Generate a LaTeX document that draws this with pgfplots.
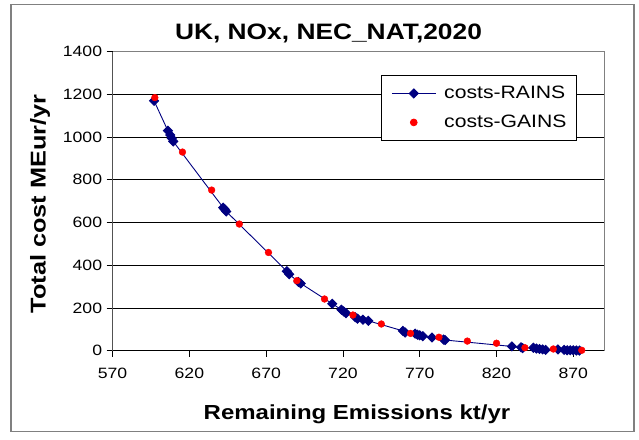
\documentclass[border=0pt]{standalone}
\usepackage{fontspec}
\setmainfont{Liberation Sans}[FakeStretch=1.18]
\usepackage{pgfplots}
\pgfplotsset{compat=1.18}
\definecolor{navyb}{RGB}{0,0,128}
\definecolor{framegray}{RGB}{128,128,128}
\begin{document}
\begin{tikzpicture}[x=1bp,y=1bp]
\path[use as bounding box] (0,0) rectangle (639,-440);
\draw[framegray, line width=1.3bp] (11,-4.5) rectangle (634,-431.5);
\begin{axis}[
  at={(112.6bp,-350.7bp)}, anchor=south west,
  scale only axis, width=491.4bp, height=299bp,
  xmin=570, xmax=890, ymin=0, ymax=1400,
  xtick={570,620,...,870},
  ytick={0,200,...,1200},
  extra y ticks={1400},
  extra y tick style={grid=none},
  ymajorgrids,
  grid style={black, line width=0.9bp},
  axis line style={framegray, line width=0.9bp},
  tick pos=left,
  tick align=outside,
  major tick length=6bp,
  tick style={black, line width=0.9bp},
  /pgf/number format/assume math mode=true,
  /pgf/number format/1000 sep={},
  tick label style={font=\fontsize{15}{17}\selectfont},
  yticklabel style={xshift=-1bp},
  xticklabel style={yshift=-8bp},
  legend style={at={(axis description cs:0.546,0.922)}, anchor=north west,
    draw=black, line width=0.8bp, fill=white,
    font=\fontsize{18}{20}\selectfont,
    row sep=11bp, inner xsep=8bp, inner ysep=9bp},
  legend cell align=left,
  legend image code/.code={\path (-2bp,0bp) (50bp,0bp);\draw[mark repeat=2,mark phase=2] plot coordinates {(0bp,0bp) (22bp,0bp) (44bp,0bp)};},
]
\addplot[navyb, line width=0.9bp, mark=square*, mark size=3.2bp,
  mark options={rotate=45, fill=navyb, draw=navyb, solid}] coordinates {
(597,1170) (606,1030) (607.5,1010) (608.5,995) (609.5,980)
(642,670) (643,662) (644,652)
(683.5,372) (685,358) (691,322) (692.5,315)
(713,220) (719,192) (720.5,184) (722,176) (728,157) (729.5,150) (733,145) (736.5,140)
(759,93) (760.5,85) (767,80) (768.5,75) (770,72) (772,68) (778,62) (785.5,52) (786.5,50)
(830,20) (836,16) (837,12) (844,14) (846,10) (848,8) (850,6) (852,4)
(860,6) (864,4) (866,2) (868,2) (870,2) (872,1) (874,0.5)
};
\addlegendentry{costs-RAINS}
\addplot[only marks, mark=*, mark size=3.4bp, mark options={fill=red, draw=none}, red] coordinates {
(597.5,1185) (615.5,930) (634.5,752) (652.5,593) (671.5,460) (690,328)
(708,242) (726.5,167) (745,125) (764,81) (782.5,63) (801,45) (820,35)
(838.5,14) (857,8) (875.5,2)
};
\addlegendentry{costs-GAINS}
\draw[black, line width=0.9bp] (axis cs:570,1400) -- (axis cs:570,0) -- (axis cs:890,0);
\end{axis}
\node[anchor=base, font=\fontsize{22.4}{25}\selectfont\bfseries] at (328.5,-40) {UK, NOx, NEC\_NAT,2020};
\node[anchor=base, font=\fontsize{20.4}{24}\selectfont\bfseries] at (357,-419.3) {Remaining Emissions kt/yr};
\node[anchor=base, rotate=90, font=\fontsize{21.5}{24}\selectfont\bfseries] at (45.5,-204) {Total cost MEur/yr};
\end{tikzpicture}
\end{document}
